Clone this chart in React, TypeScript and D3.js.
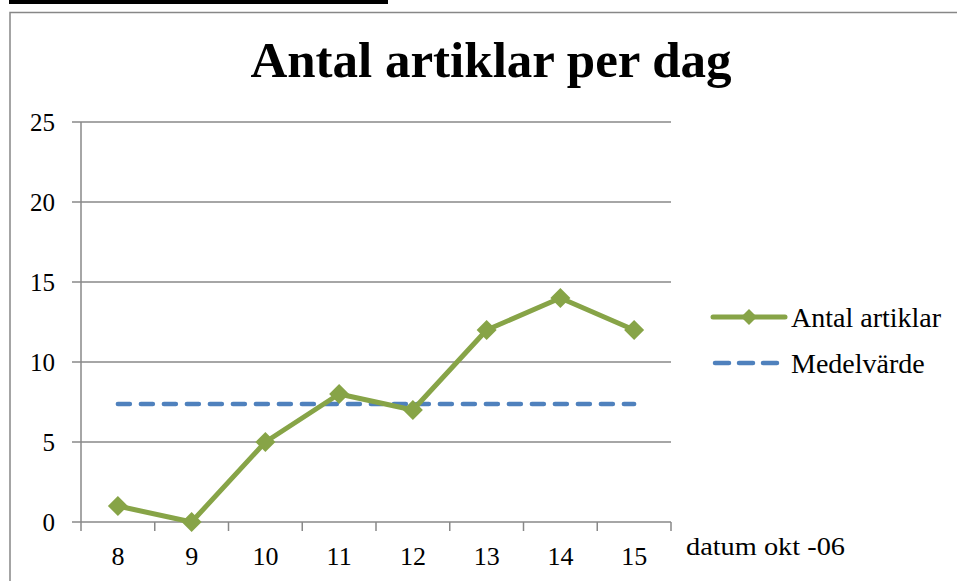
import React from 'react';
import * as d3 from 'd3';

// chart values
const days = ['8', '9', '10', '11', '12', '13', '14', '15'];
const articles = [1, 0, 5, 8, 7, 12, 14, 12];
const average = [7.375, 7.375, 7.375, 7.375, 7.375, 7.375, 7.375, 7.375];
const yTicks = [0, 5, 10, 15, 20, 25];
const legendNames = ['Antal artiklar', 'Medelvärde'];

const width = 957;
const height = 581;
const plot = { left: 81, right: 671, top: 122, bottom: 522 };
const green = '#87A447';
const blue = '#4F81BD';
const serif = '"Liberation Serif", "DejaVu Serif", serif';

const App = () => {
    const x = d3.scaleBand().domain(days).range([plot.left, plot.right]);
    const y = d3.scaleLinear().domain([0, 25]).range([plot.bottom, plot.top]);
    const cx = (d: string) => (x(d) as number) + x.bandwidth() / 2;

    const line = d3.line<number>()
        .x((_, i) => cx(days[i]))
        .y(v => y(v));

    const diamond = (px: number, py: number, r: number) =>
        `M${px},${py - r}L${px + r},${py}L${px},${py + r}L${px - r},${py}Z`;

    const legendX = 713;
    const legendY = [317, 363];

    return (
        <svg width={width} height={height} style={{ position: 'absolute', left: 0, top: 0, display: 'block' }}>
            <rect x={0} y={0} width={width} height={height} fill="#fff" />
            {/* cut off heading above the chart */}
            <rect x={9} y={0} width={379} height={4} fill="#000" />

            {/* chart frame */}
            <path d={`M10,${height}V12.5H${width}`} fill="none" stroke="#878787" strokeWidth={1.5} />

            <text x={491} y={77} textAnchor="middle" fontFamily={serif} fontWeight="bold" fontSize={51} fill="#000">
                Antal artiklar per dag
            </text>

            {/* grid lines and y axis */}
            {yTicks.map(t => (
                <g key={t}>
                    <line x1={plot.left - 9} x2={plot.right} y1={y(t)} y2={y(t)} stroke="#888" strokeWidth={1.5} />
                    <text x={55} y={y(t)} dy="0.35em" textAnchor="end" fontFamily={serif} fontSize={25} fill="#000">{t}</text>
                </g>
            ))}
            <line x1={plot.left} x2={plot.left} y1={plot.top} y2={plot.bottom + 9} stroke="#888" strokeWidth={1.5} />

            {/* x axis ticks and labels */}
            {days.map(d => (
                <g key={d}>
                    <line x1={(x(d) as number) + x.bandwidth()} x2={(x(d) as number) + x.bandwidth()} y1={plot.bottom} y2={plot.bottom + 9} stroke="#888" strokeWidth={1.5} />
                    <text x={cx(d)} y={565} textAnchor="middle" fontFamily={serif} fontSize={26} fill="#000">{d}</text>
                </g>
            ))}
            <text x={686} y={555} fontFamily={serif} fontSize={25} textLength={159} lengthAdjust="spacingAndGlyphs" fill="#000">datum okt -06</text>

            {/* average line */}
            <path d={line(average) || ''} fill="none" stroke={blue} strokeWidth={4.5} strokeDasharray="12,11" strokeLinecap="round" />

            {/* article series */}
            <path d={line(articles) || ''} fill="none" stroke={green} strokeWidth={5} strokeLinejoin="round" />
            {articles.map((v, i) => (
                <path key={i} d={diamond(cx(days[i]), y(v), 10)} fill={green} />
            ))}

            {/* legend */}
            <line x1={legendX} x2={legendX + 72} y1={legendY[0]} y2={legendY[0]} stroke={green} strokeWidth={5} strokeLinecap="round" />
            <path d={diamond(legendX + 36, legendY[0], 8)} fill={green} />
            <line x1={legendX + 2} x2={legendX + 66} y1={legendY[1]} y2={legendY[1]} stroke={blue} strokeWidth={4.5} strokeDasharray="14,10" strokeLinecap="round" />
            {legendNames.map((n, i) => (
                <text key={n} x={791} y={legendY[i]} dy="0.35em" fontFamily={serif} fontSize={28} fill="#000">{n}</text>
            ))}
        </svg>
    );
};

export default App;
